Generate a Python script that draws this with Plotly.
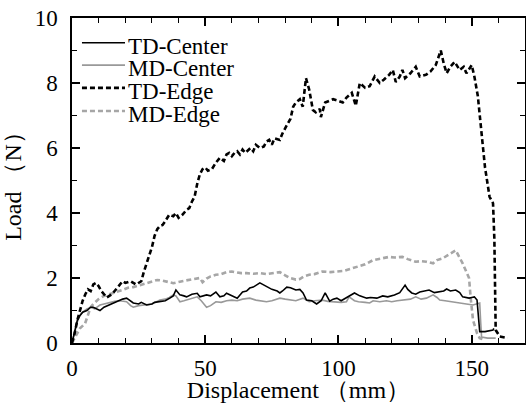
import plotly.graph_objects as go

# ---------------- data ----------------
series_names = ["TD-Center", "MD-Center", "TD-Edge", "MD-Edge"]

td_center_x = [0, 1, 2, 3, 4, 5.6, 7, 8, 9, 10.5, 12, 14, 16, 18, 19, 20.5, 22, 23, 25, 26, 28, 30, 31, 33, 35,
               36.7, 38, 39, 40.5, 42, 43, 45, 47, 48, 50.5, 52, 54, 55.5, 57, 58, 60, 62, 64, 65.5, 66.7, 68,
               70.5, 72, 73, 75, 77, 78, 79, 80.6, 82, 84, 85.5, 86.7, 88, 90, 91.8, 93.5, 95, 96.7, 98, 99.4,
               101, 103, 104.5, 106, 108, 110.6, 112, 114.4, 116.6, 118.5, 121, 123, 125, 126, 127.5, 129,
               130.5, 132, 134, 136, 138, 139.5, 140.6, 142, 144, 145.5, 146.6, 148, 149, 150, 151, 152,
               152.5, 153, 155, 157, 158, 158.3]
td_center_y = [0, 0.4, 0.7, 0.85, 0.95, 1.0, 1.1, 1.1, 1.05, 1.0, 1.1, 1.17, 1.25, 1.3, 1.35, 1.38, 1.3, 1.23,
               1.2, 1.25, 1.17, 1.2, 1.25, 1.27, 1.3, 1.38, 1.45, 1.63, 1.48, 1.45, 1.42, 1.5, 1.53, 1.42,
               1.48, 1.45, 1.57, 1.42, 1.45, 1.53, 1.45, 1.38, 1.57, 1.6, 1.69, 1.72, 1.85, 1.78, 1.73, 1.65,
               1.6, 1.54, 1.6, 1.72, 1.7, 1.63, 1.65, 1.54, 1.32, 1.3, 1.2, 1.3, 1.54, 1.29, 1.35, 1.38, 1.3,
               1.4, 1.45, 1.54, 1.45, 1.38, 1.4, 1.38, 1.45, 1.42, 1.48, 1.55, 1.78, 1.65, 1.54, 1.5, 1.57,
               1.6, 1.63, 1.55, 1.57, 1.6, 1.66, 1.6, 1.63, 1.55, 1.42, 1.4, 1.38, 1.4, 1.42, 1.32, 0.8,
               0.35, 0.35, 0.37, 0.4, 0.45]

md_center_x = [0, 1, 2, 3, 4, 5.6, 7, 8.5, 10.5, 12, 14, 16, 18, 20.5, 22, 23, 25, 28, 30, 33, 35, 36.5, 38,
               39, 40.5, 42, 43, 45, 47, 48.5, 50.5, 52, 54, 56, 58, 60, 62, 64, 66.7, 69, 71, 73, 75, 78,
               80, 81.7, 84, 86.7, 89, 91, 94, 96, 99.4, 101, 103, 104, 106, 107.5, 110, 111.7, 113, 115.5,
               118, 120, 122, 125.6, 127, 129, 131, 133, 135.5, 137, 138, 140, 142, 144, 145.5, 148, 150.5,
               152, 153, 153.4, 153.7, 156, 159]
md_center_y = [0, 0.35, 0.65, 0.85, 0.95, 1.05, 1.1, 1.05, 1.17, 1.2, 1.25, 1.28, 1.3, 1.27, 1.15, 1.1, 1.15,
               1.17, 1.2, 1.32, 1.35, 1.4, 1.48, 1.45, 1.27, 1.3, 1.32, 1.38, 1.42, 1.3, 1.1, 1.15, 1.27,
               1.25, 1.3, 1.32, 1.3, 1.35, 1.38, 1.32, 1.3, 1.27, 1.3, 1.38, 1.35, 1.32, 1.3, 1.38, 1.27,
               1.3, 1.32, 1.28, 1.27, 1.25, 1.27, 1.42, 1.3, 1.27, 1.25, 1.23, 1.3, 1.27, 1.3, 1.27, 1.3,
               1.32, 1.35, 1.42, 1.35, 1.38, 1.48, 1.4, 1.32, 1.3, 1.27, 1.25, 1.23, 1.2, 1.17, 1.2, 1.23,
               0.6, 0.18, 0.15, 0.15]

td_edge_x = [0, 1, 2, 3, 4, 5, 6, 7, 8, 9, 10, 11, 12, 13, 14, 15, 16, 17, 18, 19, 20, 22, 24, 25, 26, 27,
             28.5, 30, 31, 32, 33, 34, 35, 36.5, 38, 39, 40, 41.5, 43, 44, 45, 46, 47, 48, 49, 50, 51, 52.5,
             54, 55.5, 57, 58, 59, 60, 61, 62, 63, 64, 65, 67, 68, 69, 70.5, 72, 73, 74, 75, 76, 78, 79,
             80.6, 82, 83, 84, 85.5, 86.6, 87.8, 89, 90.4, 91.5, 93, 93.4, 95, 96.5, 98, 100, 101.6, 103,
             105, 106.5, 108, 110, 111.7, 113.6, 115.5, 117, 119, 120.4, 121.5, 123, 124, 125, 127, 129,
             130.5, 132.8, 134.5, 136.5, 138.4, 139.5, 140.6, 142, 143.6, 145.5, 147, 148, 150, 151,
             152.3, 153.7, 155, 156.7, 158, 158.5, 159, 160.5, 163.5]
td_edge_y = [0, 0.3, 0.7, 1.0, 1.3, 1.5, 1.65, 1.6, 1.8, 1.85, 1.75, 1.6, 1.5, 1.4, 1.45, 1.5, 1.6, 1.7, 1.8,
             1.9, 1.85, 1.9, 1.8, 1.85, 1.9, 2.2, 2.6, 2.95, 3.3, 3.5, 3.6, 3.63, 3.75, 3.95, 3.9, 4.0,
             3.85, 3.95, 4.1, 4.15, 4.35, 4.5, 4.9, 5.2, 5.35, 5.4, 5.3, 5.35, 5.55, 5.7, 5.6, 5.8, 5.85,
             5.75, 5.85, 5.9, 5.8, 5.95, 5.85, 6.0, 5.9, 6.1, 6.0, 6.05, 6.2, 6.25, 6.1, 6.3, 6.25, 6.45,
             6.7, 6.9, 7.27, 7.4, 7.5, 7.27, 8.15, 7.8, 7.17, 7.1, 7.2, 6.95, 7.4, 7.45, 7.5, 7.45, 7.4,
             7.55, 7.7, 7.3, 8.0, 7.85, 7.9, 8.2, 8.0, 8.1, 8.25, 8.4, 8.03, 8.2, 8.4, 8.15, 8.3, 8.5, 8.2,
             8.25, 8.35, 8.55, 9.0, 8.6, 8.3, 8.5, 8.65, 8.4, 8.5, 8.3, 8.55, 8.2, 7.6, 6.45, 5.4, 4.5,
             4.3, 3.2, 0.4, 0.2, 0.15]

md_edge_x = [0, 1, 2, 3, 4.9, 6, 7, 8, 10, 12, 14, 16, 19, 21, 23, 25.5, 28, 30, 32, 34, 36, 38, 40, 43, 45,
             48, 49, 50.5, 52, 54, 56, 58, 60, 62, 63.5, 65.5, 68, 70.5, 73, 76, 78, 80, 81.7, 84, 85.5, 87,
             89, 91, 94, 97, 99.4, 102, 104, 107, 110, 113, 116, 119, 121, 124, 126, 129, 131, 133, 135.5,
             137, 139, 141, 144, 146.6, 149, 149.6, 150.5, 152, 153, 154]
md_edge_y = [0, 0.15, 0.3, 0.45, 0.6, 0.9, 1.1, 1.2, 1.35, 1.45, 1.5, 1.55, 1.63, 1.7, 1.72, 1.78, 1.85, 1.9,
             1.94, 1.92, 1.87, 1.84, 1.88, 1.94, 1.96, 2.0, 1.87, 1.98, 2.05, 2.1, 2.12, 2.18, 2.2, 2.17,
             2.15, 2.15, 2.13, 2.15, 2.12, 2.16, 2.18, 2.08, 2.0, 1.95, 1.97, 2.05, 2.1, 2.12, 2.2, 2.18,
             2.2, 2.22, 2.27, 2.34, 2.42, 2.55, 2.6, 2.65, 2.63, 2.65, 2.58, 2.5, 2.52, 2.5, 2.45, 2.55,
             2.6, 2.7, 2.85, 2.45, 2.0, 1.4, 0.7, 0.3, 0.15, 0.12]

x_tick_vals = [0, 50, 100, 150]
y_tick_vals = [0, 2, 4, 6, 8, 10]
x_title = "Displacement \uff08mm\uff09"
y_title = "Load \uff08N\uff09"

# ---------------- styles ----------------
FONT = "Liberation Serif"
styles = [
    dict(color="#000000", width=1.6, dash="solid"),
    dict(color="#999999", width=1.6, dash="solid"),
    dict(color="#000000", width=2.6, dash="5px,3px"),
    dict(color="#a6a6a6", width=2.6, dash="5px,3px"),
]
data = [(td_center_x, td_center_y), (md_center_x, md_center_y),
        (td_edge_x, td_edge_y), (md_edge_x, md_edge_y)]

fig = go.Figure()
order = [3, 1, 2, 0]
for i in order:
    xs, ys = data[i]
    fig.add_trace(go.Scatter(x=xs, y=ys, mode="lines", name=series_names[i],
                             line=styles[i], showlegend=False))

# manual legend (compact spacing like the reference)
leg_y = [0.924, 0.855, 0.785, 0.714]
for i, name in enumerate(series_names):
    fig.add_shape(type="line", xref="paper", yref="paper",
                  x0=0.022, x1=0.117, y0=leg_y[i], y1=leg_y[i], line=styles[i])
    fig.add_annotation(xref="paper", yref="paper", x=0.119, y=leg_y[i] - 0.011,
                       text=name, showarrow=False, xanchor="left", yanchor="middle",
                       font=dict(family=FONT, size=23, color="black"))

axis_common = dict(
    showline=True, linecolor="black", linewidth=1.5, mirror="ticks",
    ticks="inside", ticklen=8, tickwidth=1.5, tickcolor="black",
    showgrid=False, zeroline=False, automargin=False,
    tickfont=dict(family=FONT, size=23, color="black"),
    minor=dict(ticks="inside", ticklen=5, tickwidth=1.2, tickcolor="black", showgrid=False),
)

fig.update_xaxes(range=[0, 170], tickvals=x_tick_vals, minor_dtick=10,
                 title=dict(text=x_title, font=dict(family=FONT, size=24, color="black"), standoff=7),
                 ticklabelstandoff=4, **axis_common)
fig.update_yaxes(range=[0, 10], tickvals=y_tick_vals, minor_dtick=1,
                 title=dict(text=y_title, font=dict(family=FONT, size=24, color="black"), standoff=6),
                 ticklabelstandoff=8, **axis_common)

fig.update_layout(
    width=526, height=403,
    margin=dict(l=72, r=1, t=18, b=60),
    paper_bgcolor="white", plot_bgcolor="white",
    font=dict(family=FONT, color="black"),
)

fig.write_html("out.html")
